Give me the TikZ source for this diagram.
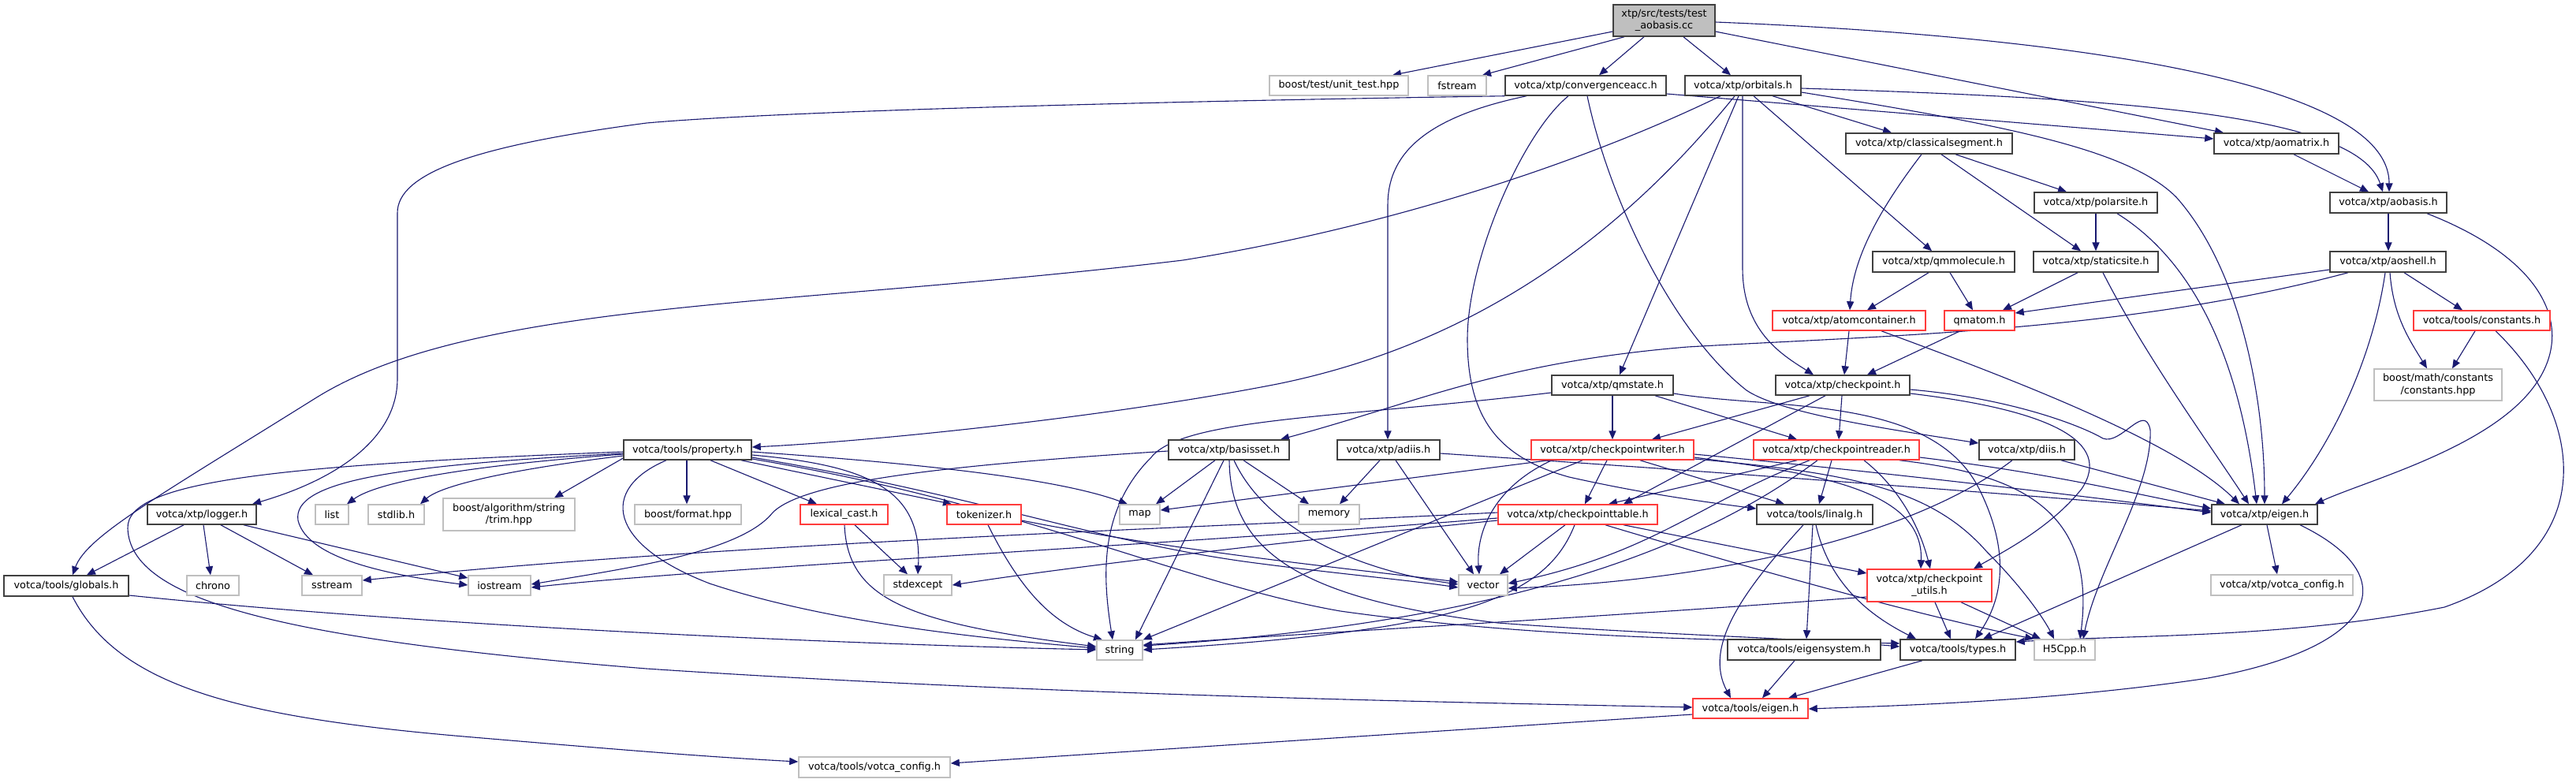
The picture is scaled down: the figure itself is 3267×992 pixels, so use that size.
\documentclass[tikz,border=0pt]{standalone}
\usepackage{fontspec}
\setmainfont{DejaVu Sans}
\usetikzlibrary{arrows.meta}
\definecolor{mb}{HTML}{191970}
\definecolor{bk}{HTML}{404040}
\definecolor{rd}{HTML}{FF3C3C}
\definecolor{gy}{HTML}{BFBFBF}
\newcommand\nodefont{\fontsize{6.4}{7.7}\selectfont}
\newcommand\mynd[7]{\node[#6,minimum width={(#4-#2)*0.5pt},minimum height={(#5-#3)*0.5pt}] (#1) at ({(#2+#4)/2},{(#3+#5)/2}) {#7};}
\pgfdeclarelayer{bg}
\pgfsetlayers{bg,main}
\tikzset{
  bx/.style={draw=bk,line width=0.75pt,fill=white,inner sep=0pt,font=\nodefont,align=center,text=black},
  gbx/.style={bx,draw=gy},
  rbx/.style={bx,draw=rd},
  rootbx/.style={bx,fill=gy},
  e/.style={draw=mb,line width=0.55pt,-{Triangle[length=5.5pt,width=4.6pt]}},
}
\begin{document}
\begin{tikzpicture}[x=0.5pt,y=-0.5pt]
\useasboundingbox (0,0) rectangle (3267,992);
% nodes
\mynd{root}{2046}{6}{2175}{46}{rootbx}{xtp/src/tests/test\\\_aobasis.cc}
\mynd{unit}{1610}{96}{1786}{121}{gbx}{boost/test/unit\_test.hpp}
\mynd{fstream}{1811}{96}{1885}{121}{gbx}{fstream}
\mynd{conv}{1909}{96}{2113}{121}{bx}{votca/xtp/convergenceacc.h}
\mynd{orb}{2137}{96}{2284}{121}{bx}{votca/xtp/orbitals.h}
\mynd{cls}{2341}{169}{2552}{195}{bx}{votca/xtp/classicalsegment.h}
\mynd{aomat}{2808}{169}{2966}{195}{bx}{votca/xtp/aomatrix.h}
\mynd{polar}{2580}{244}{2736}{270}{bx}{votca/xtp/polarsite.h}
\mynd{aobasis}{2955}{244}{3103}{270}{bx}{votca/xtp/aobasis.h}
\mynd{qmmol}{2375}{319}{2555}{345}{bx}{votca/xtp/qmmolecule.h}
\mynd{static}{2579}{319}{2737}{345}{bx}{votca/xtp/staticsite.h}
\mynd{aoshell}{2955}{319}{3102}{345}{bx}{votca/xtp/aoshell.h}
\mynd{atomc}{2248}{394}{2442}{419}{rbx}{votca/xtp/atomcontainer.h}
\mynd{qmatom}{2466}{394}{2555}{419}{rbx}{qmatom.h}
\mynd{tconst}{3061}{394}{3234}{419}{rbx}{votca/tools/constants.h}
\mynd{bconst}{3011}{468}{3173}{508}{gbx}{boost/math/constants\\/constants.hpp}
\mynd{qmstate}{1968}{476}{2122}{501}{bx}{votca/xtp/qmstate.h}
\mynd{ckpt}{2252}{476}{2422}{501}{bx}{votca/xtp/checkpoint.h}
\mynd{prop}{791}{558}{953}{583}{bx}{votca/tools/property.h}
\mynd{basis}{1482}{558}{1635}{583}{bx}{votca/xtp/basisset.h}
\mynd{adiis}{1696}{558}{1826}{583}{bx}{votca/xtp/adiis.h}
\mynd{ckw}{1942}{558}{2148}{583}{rbx}{votca/xtp/checkpointwriter.h}
\mynd{ckr}{2224}{558}{2434}{583}{rbx}{votca/xtp/checkpointreader.h}
\mynd{diis}{2510}{558}{2631}{583}{bx}{votca/xtp/diis.h}
\mynd{logger}{187}{640}{325}{665}{bx}{votca/xtp/logger.h}
\mynd{list}{400}{640}{442}{665}{gbx}{list}
\mynd{stdlib}{467}{640}{538}{665}{gbx}{stdlib.h}
\mynd{trim}{562}{632}{729}{673}{gbx}{boost/algorithm/string\\/trim.hpp}
\mynd{format}{805}{640}{940}{665}{gbx}{boost/format.hpp}
\mynd{lexc}{1015}{640}{1126}{665}{rbx}{lexical\_cast.h}
\mynd{tok}{1201}{640}{1295}{665}{rbx}{tokenizer.h}
\mynd{map}{1420}{640}{1471}{665}{gbx}{map}
\mynd{memory}{1647}{640}{1724}{665}{gbx}{memory}
\mynd{ckt}{1900}{640}{2102}{665}{rbx}{votca/xtp/checkpointtable.h}
\mynd{linalg}{2228}{640}{2375}{665}{bx}{votca/tools/linalg.h}
\mynd{xeigen}{2805}{640}{2939}{665}{bx}{votca/xtp/eigen.h}
\mynd{globals}{5}{730}{163}{756}{bx}{votca/tools/globals.h}
\mynd{chrono}{237}{730}{303}{755}{gbx}{chrono}
\mynd{sstream}{383}{730}{459}{755}{gbx}{sstream}
\mynd{iostream}{594}{730}{673}{755}{gbx}{iostream}
\mynd{stdexcept}{1121}{729}{1207}{755}{gbx}{stdexcept}
\mynd{vector}{1850}{729}{1912}{755}{gbx}{vector}
\mynd{ckutils}{2368}{722}{2526}{763}{rbx}{votca/xtp/checkpoint\\\_utils.h}
\mynd{xconfig}{2804}{729}{2984}{755}{gbx}{votca/xtp/votca\_config.h}
\mynd{string}{1391}{812}{1449}{837}{gbx}{string}
\mynd{eigsys}{2191}{811}{2385}{837}{bx}{votca/tools/eigensystem.h}
\mynd{types}{2410}{811}{2556}{837}{bx}{votca/tools/types.h}
\mynd{h5}{2580}{811}{2657}{837}{gbx}{H5Cpp.h}
\mynd{teigen}{2147}{886}{2293}{911}{rbx}{votca/tools/eigen.h}
\mynd{tconfig}{1013}{960}{1205}{986}{gbx}{votca/tools/votca\_config.h}
\begin{pgfonlayer}{bg}
\fill[white] (0,0) rectangle (3267,992);
% root
\draw[e] (root.west |- 0,40) -- (1766,0 |- unit.north);
\draw[e] (2060,0 |- root.south) -- (1880,0 |- fstream.north);
\draw[e] (2085,0 |- root.south) -- (2028,0 |- conv.north);
\draw[e] (2135,0 |- root.south) -- (2195,0 |- orb.north);
\draw[e] (root.east |- 0,40) -- (2820,0 |- aomat.north);
\draw[e] (root.east |- 0,28) .. controls (2600,45) and (3030,100) .. (3030,0 |- aobasis.north);
% convergenceacc
\draw[e] (conv.south west) .. controls (1500,128) and (1000,140) .. (820,156) .. controls (600,185) and (504,220) .. (504,270) -- (504,480) .. controls (504,560) and (420,610) .. (320,0 |- logger.north);
\draw[e] (1936,0 |- conv.south) .. controls (1800,150) and (1760,200) .. (1760,260) -- (1760,0 |- adiis.north);
\draw[e] (1989,0 |- conv.south) .. controls (1930,170) and (1861,330) .. (1861,430) .. controls (1861,530) and (1900,580) .. (1990,605) .. controls (2080,625) and (2150,635) .. (linalg.west |- 0,645);
\draw[e] (2013,0 |- conv.south) .. controls (2040,250) and (2120,420) .. (2215,495) .. controls (2260,525) and (2400,545) .. (diis.west |- 0,562);
\draw[e] (conv.east |- 0,119) -- (aomat.west |- 0,176);
% orbitals
\draw[e] (2182,0 |- orb.south) .. controls (2000,210) and (1750,290) .. (1500,330) .. controls (1000,390) and (600,380) .. (400,505) .. controls (200,630) and (110,680) .. (92,0 |- globals.north);
\draw[e] (2200,0 |- orb.south) .. controls (2080,270) and (1900,430) .. (1620,487) .. controls (1400,530) and (1100,560) .. (prop.east |- 0,567);
\draw[e] (2205,0 |- orb.south) -- (2054,0 |- qmstate.north);
\draw[e] (2210,0 |- orb.south) -- (2210,340) .. controls (2210,420) and (2260,450) .. (2300,0 |- ckpt.north);
\draw[e] (2224,0 |- orb.south) -- (2450,0 |- qmmol.north);
\draw[e] (2248,0 |- orb.south) -- (2399,0 |- cls.north);
\draw[e] (orb.east |- 0,112) .. controls (2700,125) and (2990,145) .. (3022,0 |- aobasis.north);
\draw[e] (orb.east |- 0,117) .. controls (2550,160) and (2700,190) .. (2760,250) .. controls (2840,340) and (2872,500) .. (2872,0 |- xeigen.north);
% classicalsegment, polarsite, staticsite, qmmolecule
\draw[e] (2437,0 |- cls.south) .. controls (2380,270) and (2350,330) .. (2346,0 |- atomc.north);
\draw[e] (2462,0 |- cls.south) -- (2639,0 |- static.north);
\draw[e] (2480,0 |- cls.south) -- (2621,0 |- polar.north);
\draw[e] (2658,0 |- polar.south) -- (2658,0 |- static.north);
\draw[e] (2685,0 |- polar.south) .. controls (2780,330) and (2840,450) .. (2862,0 |- xeigen.north);
\draw[e] (2635,0 |- static.south) -- (2540,0 |- qmatom.north);
\draw[e] (2667,0 |- static.south) .. controls (2720,450) and (2800,560) .. (2852,0 |- xeigen.north);
\draw[e] (2446,0 |- qmmol.south) -- (2368,0 |- atomc.north);
\draw[e] (2473,0 |- qmmol.south) -- (2502,0 |- qmatom.north);
\draw[e] (2345,0 |- atomc.south) -- (2339,0 |- ckpt.north);
\draw[e] (2386,0 |- atomc.south) .. controls (2550,480) and (2760,560) .. (2840,0 |- xeigen.north);
\draw[e] (2486,0 |- qmatom.south) -- (2368,0 |- ckpt.north);
% aomatrix, aobasis, aoshell, constants
\draw[e] (2909,0 |- aomat.south) -- (3004,0 |- aobasis.north);
\draw[e] (3029,0 |- aobasis.south) -- (3029,0 |- aoshell.north);
\draw[e] (3078,0 |- aobasis.south) .. controls (3230,330) and (3270,420) .. (3210,495) .. controls (3150,570) and (3000,610) .. (2936,0 |- xeigen.north);
\draw[e] (aoshell.west |- 0,342) -- (qmatom.east |- 0,397);
\draw[e] (2978,0 |- aoshell.south) .. controls (2700,420) and (2400,425) .. (2140,440) .. controls (1900,460) and (1800,510) .. (1624,0 |- basis.north);
\draw[e] (3025,0 |- aoshell.south) .. controls (3010,450) and (2960,560) .. (2894,0 |- xeigen.north);
\draw[e] (3031,0 |- aoshell.south) .. controls (3035,400) and (3055,430) .. (3078,0 |- bconst.north);
\draw[e] (3049,0 |- aoshell.south) -- (3123,0 |- tconst.north);
\draw[e] (3139,0 |- tconst.south) -- (3110,0 |- bconst.north);
\draw[e] (3165,0 |- tconst.south) .. controls (3280,530) and (3300,700) .. (3100,770) .. controls (2900,810) and (2700,805) .. (types.east |- 0,814);
% qmstate
\draw[e] (qmstate.west |- 0,498) .. controls (1700,530) and (1500,530) .. (1460,580) .. controls (1390,650) and (1400,740) .. (1411,0 |- string.north);
\draw[e] (2045,0 |- qmstate.south) -- (2045,0 |- ckw.north);
\draw[e] (2099,0 |- qmstate.south) -- (2279,0 |- ckr.north);
\draw[e] (qmstate.east |- 0,499) .. controls (2250,520) and (2450,500) .. (2510,620) .. controls (2550,700) and (2540,760) .. (2505,0 |- types.north);
% checkpoint
\draw[e] (2295,0 |- ckpt.south) -- (2095,0 |- ckw.north);
\draw[e] (2315,0 |- ckpt.south) -- (2059,0 |- ckt.north);
\draw[e] (2336,0 |- ckpt.south) -- (2332,0 |- ckr.north);
\draw[e] (ckpt.east |- 0,499) .. controls (2600,520) and (2680,560) .. (2640,620) .. controls (2600,670) and (2540,700) .. (2503,0 |- ckutils.north);
\draw[e] (ckpt.east |- 0,494) .. controls (2550,505) and (2640,540) .. (2667,556) .. controls (2690,565) and (2720,510) .. (2727,545) .. controls (2730,620) and (2660,720) .. (2642,0 |- h5.north);
% checkpointwriter
\draw[e] (1964,0 |- ckw.south) -- (map.east |- 0,647);
\draw[e] (1968,0 |- ckw.south) .. controls (1890,620) and (1872,680) .. (1876,0 |- vector.north);
\draw[e] (2007,0 |- ckw.south) -- (string.north east);
\draw[e] (2038,0 |- ckw.south) -- (2010,0 |- ckt.north);
\draw[e] (2080,0 |- ckw.south) -- (2263,0 |- linalg.north);
\draw[e] (ckw.east |- 0,580) .. controls (2300,600) and (2440,620) .. (2436,0 |- ckutils.north);
\draw[e] (ckw.east |- 0,582) .. controls (2350,600) and (2450,620) .. (2520,700) .. controls (2570,750) and (2595,790) .. (2605,0 |- h5.north);
\draw[e] (ckw.east |- 0,576) .. controls (2400,600) and (2650,630) .. (xeigen.west |- 0,650);
% checkpointreader
\draw[e] (2279,0 |- ckr.south) -- (2040,0 |- ckt.north);
\draw[e] (2295,0 |- ckr.south) .. controls (2150,640) and (2100,700) .. (vector.east |- 0,740);
\draw[e] (2305,0 |- ckr.south) .. controls (2150,700) and (1900,790) .. (string.east |- 0,819);
\draw[e] (2323,0 |- ckr.south) -- (2307,0 |- linalg.north);
\draw[e] (2364,0 |- ckr.south) .. controls (2410,620) and (2435,670) .. (2448,0 |- ckutils.north);
\draw[e] (2409,0 |- ckr.south) .. controls (2550,600) and (2660,640) .. (2638,0 |- h5.north);
\draw[e] (ckr.east |- 0,580) .. controls (2600,600) and (2700,625) .. (xeigen.west |- 0,645);
% adiis, diis
\draw[e] (1750,0 |- adiis.south) -- (1699,0 |- memory.north);
\draw[e] (1770,0 |- adiis.south) -- (1869,0 |- vector.north);
\draw[e] (adiis.east |- 0,575) .. controls (2200,600) and (2600,630) .. (xeigen.west |- 0,648);
\draw[e] (2614,0 |- diis.south) -- (2822,0 |- xeigen.north);
\draw[e] (2552,0 |- diis.south) .. controls (2400,700) and (2100,740) .. (vector.east |- 0,746);
% basisset
\draw[e] (1541,0 |- basis.south) -- (1466,0 |- map.north);
\draw[e] (1577,0 |- basis.south) -- (1660,0 |- memory.north);
\draw[e] (1565,0 |- basis.south) .. controls (1600,660) and (1700,720) .. (vector.west |- 0,741);
\draw[e] (1552,0 |- basis.south) -- (1440,0 |- string.north);
\draw[e] (1559,0 |- basis.south) .. controls (1560,700) and (1650,760) .. (1900,790) .. controls (2100,805) and (2300,810) .. (types.west |- 0,820);
\draw[e] (basis.west |- 0,572) .. controls (1200,590) and (1020,610) .. (980,650) .. controls (940,700) and (800,720) .. (iostream.east |- 0,741);
% property
\draw[e] (prop.west |- 0,576) .. controls (600,590) and (480,610) .. (440,0 |- list.north);
\draw[e] (prop.west |- 0,578) .. controls (650,595) and (560,615) .. (533,0 |- stdlib.north);
\draw[e] (prop.west |- 0,581) -- (703,0 |- trim.north);
\draw[e] (871,0 |- prop.south) -- (871,0 |- format.north);
\draw[e] (901,0 |- prop.south) -- (1036,0 |- lexc.north);
\draw[e] (940,0 |- prop.south) -- (1207,0 |- tok.north);
\draw[e] (prop.east |- 0,573) .. controls (1200,590) and (1350,610) .. (1430,0 |- map.north);
\draw[e] (prop.east |- 0,577) .. controls (1100,590) and (1170,620) .. (1164,0 |- stdexcept.north);
\draw[e] (prop.east |- 0,580) .. controls (1250,630) and (1400,690) .. (1600,715) .. controls (1700,728) and (1780,735) .. (vector.west |- 0,745);
\draw[e] (845,0 |- prop.south) .. controls (760,620) and (770,690) .. (900,740) .. controls (1050,790) and (1250,810) .. (string.west |- 0,822);
\draw[e] (prop.west |- 0,575) .. controls (500,590) and (370,610) .. (378,660) .. controls (390,710) and (500,730) .. (iostream.west |- 0,742);
\draw[e] (prop.west |- 0,573) .. controls (350,590) and (160,610) .. (162,670) .. controls (165,760) and (350,810) .. (820,848) .. controls (1300,880) and (1800,890) .. (teigen.west |- 0,897);
\draw[e] (prop.east |- 0,582) .. controls (1300,640) and (1500,740) .. (1700,775) .. controls (1950,810) and (2200,812) .. (types.west |- 0,816);
% logger, globals
\draw[e] (233,0 |- logger.south) -- (110,0 |- globals.north);
\draw[e] (258,0 |- logger.south) -- (267,0 |- chrono.north);
\draw[e] (280,0 |- logger.south) -- (397,0 |- sstream.north);
\draw[e] (309,0 |- logger.south) -- (iostream.west |- 0,733);
\draw[e] (globals.east |- 0,755) .. controls (500,790) and (1000,815) .. (string.west |- 0,824);
\draw[e] (92,0 |- globals.south) .. controls (150,870) and (300,910) .. (600,935) .. controls (800,952) and (900,960) .. (tconfig.west |- 0,966);
% lexical_cast, tokenizer
\draw[e] (1084,0 |- lexc.south) -- (1151,0 |- stdexcept.north);
\draw[e] (1071,0 |- lexc.south) .. controls (1075,760) and (1150,790) .. (string.west |- 0,820);
\draw[e] (1253,0 |- tok.south) .. controls (1290,740) and (1330,790) .. (1398,0 |- string.north);
\draw[e] (tok.east |- 0,660) .. controls (1500,700) and (1700,720) .. (vector.west |- 0,738);
% checkpointtable
\draw[e] (1985,0 |- ckt.south) -- (1902,0 |- vector.north);
\draw[e] (1997,0 |- ckt.south) .. controls (1960,760) and (1850,800) .. (string.east |- 0,824);
\draw[e] (2059,0 |- ckt.south) -- (ckutils.west |- 0,727);
\draw[e] (2036,0 |- ckt.south) .. controls (2300,745) and (2480,790) .. (h5.north west);
\draw[e] (ckt.west |- 0,650) .. controls (1500,670) and (900,690) .. (sstream.east |- 0,736);
\draw[e] (ckt.west |- 0,657) .. controls (1500,690) and (900,720) .. (iostream.east |- 0,745);
\draw[e] (ckt.west |- 0,660) .. controls (1600,690) and (1350,720) .. (stdexcept.east |- 0,742);
% linalg, checkpoint_utils, eigensystem, types
\draw[e] (2287,0 |- linalg.south) .. controls (2210,750) and (2160,820) .. (2195,0 |- teigen.north);
\draw[e] (2299,0 |- linalg.south) -- (2291,0 |- eigsys.north);
\draw[e] (2303,0 |- linalg.south) .. controls (2320,740) and (2370,780) .. (2430,0 |- types.north);
\draw[e] (ckutils.west |- 0,757) .. controls (2000,785) and (1700,800) .. (string.east |- 0,818);
\draw[e] (2454,0 |- ckutils.south) -- (2474,0 |- types.north);
\draw[e] (2487,0 |- ckutils.south) -- (2588,0 |- h5.north);
\draw[e] (2276,0 |- eigsys.south) -- (2235,0 |- teigen.north);
\draw[e] (2438,0 |- types.south) -- (2268,0 |- teigen.north);
% xtp eigen, tools eigen
\draw[e] (2843,0 |- xeigen.south) -- (2515,0 |- types.north);
\draw[e] (2875,0 |- xeigen.south) -- (2888,0 |- xconfig.north);
\draw[e] (2917,0 |- xeigen.south) .. controls (3050,730) and (3020,820) .. (2800,860) .. controls (2600,890) and (2400,895) .. (teigen.east |- 0,899);
\draw[e] (teigen.west |- 0,906) -- (tconfig.east |- 0,968);
\end{pgfonlayer}
\end{tikzpicture}
\end{document}
